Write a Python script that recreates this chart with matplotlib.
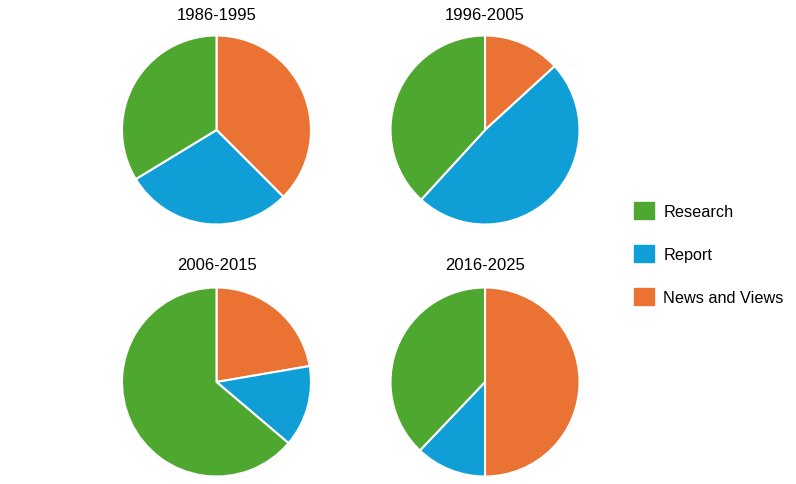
import matplotlib.pyplot as plt
from matplotlib.patches import Patch

plt.rcParams['font.family'] = ['Liberation Sans', 'DejaVu Sans']

periods = ['1986-1995', '1996-2005', '2006-2015', '2016-2025']
labels = ['News and Views', 'Report', 'Research']
news = [37.5, 13.2, 22.3, 50.0]
report = [28.8, 48.6, 13.9, 12.1]
research = [33.7, 38.2, 63.8, 37.9]
colors = ['#EA7333', '#0F9FD6', '#4EA72F']

W, H = 796, 485
fig = plt.figure(figsize=(W / 100, H / 100), dpi=100)

centers = [(216.5, 131), (485, 131), (216.5, 383), (485, 383)]
title_y = [15.5, 15.5, 266, 266]
r = 94.5

for i, p in enumerate(periods):
    cx, cy = centers[i]
    ax = fig.add_axes([(cx - r) / W, 1 - (cy + r) / H, 2 * r / W, 2 * r / H])
    ax.pie([news[i], report[i], research[i]], colors=colors, startangle=90,
           counterclock=False, wedgeprops=dict(edgecolor='white', linewidth=1.5))
    ax.set_xlim(-1.0, 1.0)
    ax.set_ylim(-1.0, 1.0)
    ax.set_aspect('equal')
    fig.text(cx / W, 1 - title_y[i] / H, p, ha='center', va='center', fontsize=12)

# legend order: Research, Report, News and Views
handles = [Patch(color=colors[2]), Patch(color=colors[1]), Patch(color=colors[0])]
fig.legend(handles, [labels[2], labels[1], labels[0]], loc='center left',
           bbox_to_anchor=(634 / W, 1 - 254.5 / H), frameon=False, fontsize=11.7,
           handlelength=1.25, handleheight=1.2, handletextpad=0.55,
           labelspacing=1.62, borderpad=0, borderaxespad=0)

fig.savefig('out.png', dpi=100)
